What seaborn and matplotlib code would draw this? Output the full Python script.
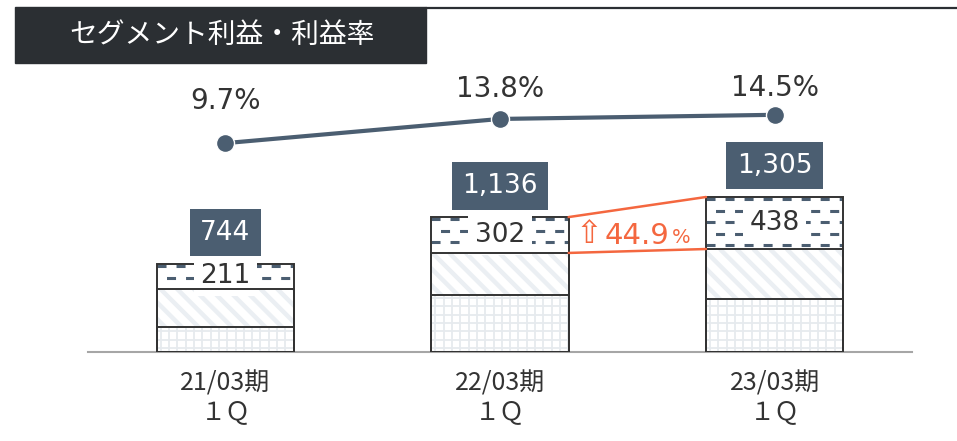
import numpy as np
import pandas as pd
import matplotlib
matplotlib.use("Agg")
import matplotlib.pyplot as plt
import seaborn as sns
from matplotlib.patches import Rectangle
from matplotlib.lines import Line2D
from matplotlib.collections import LineCollection

# Segment profit by fiscal period (stacked components) and profit margin
periods = ["21/03期\n１Ｑ", "22/03期\n１Ｑ", "23/03期\n１Ｑ"]
profit_base = [213, 480, 447]
profit_mid = [320, 354, 420]
profit_top = [211, 302, 438]
profit_total = [744, 1136, 1305]
margin_pct = [9.7, 13.8, 14.5]
growth_label = "44.9"

DARK = "#2b2f33"
SLATE = "#4b5e71"
EDGE = "#333333"
TEXT = "#333333"
ORANGE = "#f4673f"
STRIPE = "#ebeff3"
GRIDC = "#e6eaee"

sns.set_theme(style="white")
plt.rcParams["font.family"] = ["DejaVu Sans", "Noto Sans CJK JP"]
CJK = ["Noto Sans CJK JP", "DejaVu Sans"]

df = pd.DataFrame({
    "period": periods,
    "base": profit_base,
    "mid": profit_mid,
    "top": profit_top,
    "total": profit_total,
    "margin": margin_pct,
})
df["lower2"] = df["base"] + df["mid"]

FIG_W, FIG_H, DPI = 9.57, 4.41, 100
AX_L, AX_B, AX_R, AX_T = 88, 352, 912, 80   # axes box in pixels
YMAX = 2290
fig = plt.figure(figsize=(FIG_W, FIG_H), dpi=DPI)
W_PX, H_PX = FIG_W * DPI, FIG_H * DPI
ax = fig.add_axes([AX_L / W_PX, 1 - AX_B / H_PX, (AX_R - AX_L) / W_PX, (AX_B - AX_T) / H_PX])
px_per_x = (AX_R - AX_L) / 3.0
px_per_y = (AX_B - AX_T) / YMAX

W = 0.5

# full-height bar (top segment face), then the lower cumulative layers over it
sns.barplot(data=df, x="period", y="total", color="white", saturation=1,
            width=W, linewidth=0, errorbar=None, ax=ax, zorder=1)
top_bars = list(ax.containers[-1])

sns.barplot(data=df, x="period", y="lower2", color="white", saturation=1,
            width=W, linewidth=0, errorbar=None, ax=ax, zorder=2)
mid_bars = list(ax.containers[-1])

sns.barplot(data=df, x="period", y="base", color="white", saturation=1,
            width=W, linewidth=0, errorbar=None, ax=ax, zorder=2.5)
base_bars = list(ax.containers[-1])

# middle segment: wide light diagonal stripes at 45 degrees on screen
stripe_gap_px = 16.7
for i, p in enumerate(mid_bars):
    x0, x1 = p.get_x(), p.get_x() + p.get_width()
    top = df["lower2"][i]
    span_px = top * px_per_y
    starts = np.arange(x0 - span_px / px_per_x, x1, stripe_gap_px / px_per_x)
    segs = [[(s, top), (s + span_px / px_per_x, 0)] for s in starts]
    lc = LineCollection(segs, colors=STRIPE, linewidths=3.2, zorder=2.1)
    ax.add_collection(lc)
    lc.set_clip_path(p)

# bottom segment: fine light grid
grid_px = 8.3
for i, p in enumerate(base_bars):
    x0, x1 = p.get_x(), p.get_x() + p.get_width()
    h = df["base"][i]
    xs = np.arange(x0 + grid_px / px_per_x / 2, x1, grid_px / px_per_x)
    ys = np.arange(grid_px / px_per_y / 2, h, grid_px / px_per_y)
    v = ax.vlines(xs, 0, h, colors=GRIDC, linewidth=1.3, zorder=2.6)
    hl = ax.hlines(ys, x0, x1, colors=GRIDC, linewidth=1.3, zorder=2.6)
    v.set_clip_path(p)
    hl.set_clip_path(p)

# dashed rows inside the top segment
row_px = 11.5
dash_lw = 2.2
dash_on, dash_off = 6.5 / dash_lw, 7.2 / dash_lw
for i, p in enumerate(top_bars):
    top = df["total"][i]
    low = df["lower2"][i]
    x0, x1 = p.get_x(), p.get_x() + p.get_width()
    y = top - 2.4 / px_per_y
    k = 0
    while y > low + 1.2 / px_per_y:
        phase = 0 if k % 2 == 0 else (dash_on + dash_off) / 2
        lc = ax.hlines(y, x0, x1, colors=SLATE, linewidth=dash_lw,
                       linestyles=[(phase, (dash_on, dash_off))], zorder=1.5)
        lc.set_clip_path(p)
        y -= row_px / px_per_y
        k += 1

# outlines
sns.barplot(data=df, x="period", y="total", fill=False, color=EDGE,
            width=W, linewidth=1.4, errorbar=None, ax=ax, zorder=3)
sns.barplot(data=df, x="period", y="lower2", fill=False, color=EDGE,
            width=W, linewidth=1.4, errorbar=None, ax=ax, zorder=5)
sns.barplot(data=df, x="period", y="base", fill=False, color=EDGE,
            width=W, linewidth=1.4, errorbar=None, ax=ax, zorder=5)

# labels: top-segment value and total
for i in range(len(df)):
    ax.text(i, df["lower2"][i] + df["top"][i] / 2, f"{df['top'][i]:,}",
            ha="center", va="center", fontsize=19, color=TEXT, zorder=4,
            bbox=dict(boxstyle="square,pad=0.25", fc="white", ec="none"))
    ax.annotate(f"{df['total'][i]:,}", xy=(i, df["total"][i]),
                xytext=(0, 13), textcoords="offset points",
                ha="center", va="bottom", fontsize=19, color="white", zorder=6,
                bbox=dict(boxstyle="square,pad=0.4", fc=SLATE, ec="none"))

# growth bracket between the last two periods
xa, xb = 1 + W / 2, 2 - W / 2
ax.plot([xa, xb], [df["total"][1], df["total"][2]], color=ORANGE, lw=1.8, zorder=6)
ax.plot([xa, xb], [df["lower2"][1], df["lower2"][2]], color=ORANGE, lw=1.8, zorder=6)
y_mid = (df["total"][1] + df["total"][2] + df["lower2"][1] + df["lower2"][2]) / 4
ax.annotate(growth_label, xy=(1.5, y_mid), xytext=(0, -5), textcoords="offset points",
            ha="center", va="center", fontsize=21, color=ORANGE, zorder=7)
ax.annotate("⇧", xy=(1.5, y_mid), xytext=(-35, -4), textcoords="offset points",
            ha="center", va="center", fontsize=23, color=ORANGE, zorder=7)
ax.annotate("%", xy=(1.5, y_mid), xytext=(25, -6), textcoords="offset points",
            ha="left", va="center", fontsize=14, color=ORANGE, zorder=7)

ax.set_xlim(-0.5, 2.5)
ax.set_ylim(0, YMAX)
ax.set_xlabel("")
ax.set_ylabel("")
ax.set_yticks([])
for s in ["left", "right", "top"]:
    ax.spines[s].set_visible(False)
ax.spines["bottom"].set_color("#a6a6a6")
ax.spines["bottom"].set_linewidth(1.5)
ax.tick_params(axis="x", length=0, pad=13, labelsize=18, colors=TEXT)
for lab in ax.get_xticklabels():
    lab.set_fontfamily(CJK)
    lab.set_linespacing(1.15)

# margin line on a twin axis
ax2 = ax.twinx()
sns.lineplot(x=np.arange(len(df)), y=df["margin"].values, ax=ax2, color=SLATE,
             linewidth=3, marker="o", markersize=13, markeredgecolor="white",
             markeredgewidth=1.0, zorder=5)
label_lift = [30, 21.5, 19.5]
for i, m in enumerate(df["margin"]):
    ax2.annotate(f"{m}%", xy=(i, m), xytext=(0, label_lift[i]), textcoords="offset points",
                 ha="center", va="center", fontsize=20, color=TEXT)
ax2.set_ylim(-25.7, 20.4)
ax2.set_xlim(-0.5, 2.5)
ax2.set_yticks([])
ax2.set_ylabel("")
for s in ax2.spines.values():
    s.set_visible(False)

# title banner
fig.patches.append(Rectangle((15 / W_PX, 1 - 63 / H_PX), (426 - 15) / W_PX, 56 / H_PX,
                             transform=fig.transFigure, color=DARK, zorder=0))
fig.add_artist(Line2D([426 / W_PX, 1], [1 - 8 / H_PX, 1 - 8 / H_PX],
                      transform=fig.transFigure, color=DARK, lw=1.6))
fig.text(222 / W_PX, 1 - 35 / H_PX, "セグメント利益・利益率", fontsize=20,
         color="white", ha="center", va="center", family=CJK)

fig.savefig("out.png", dpi=DPI)
